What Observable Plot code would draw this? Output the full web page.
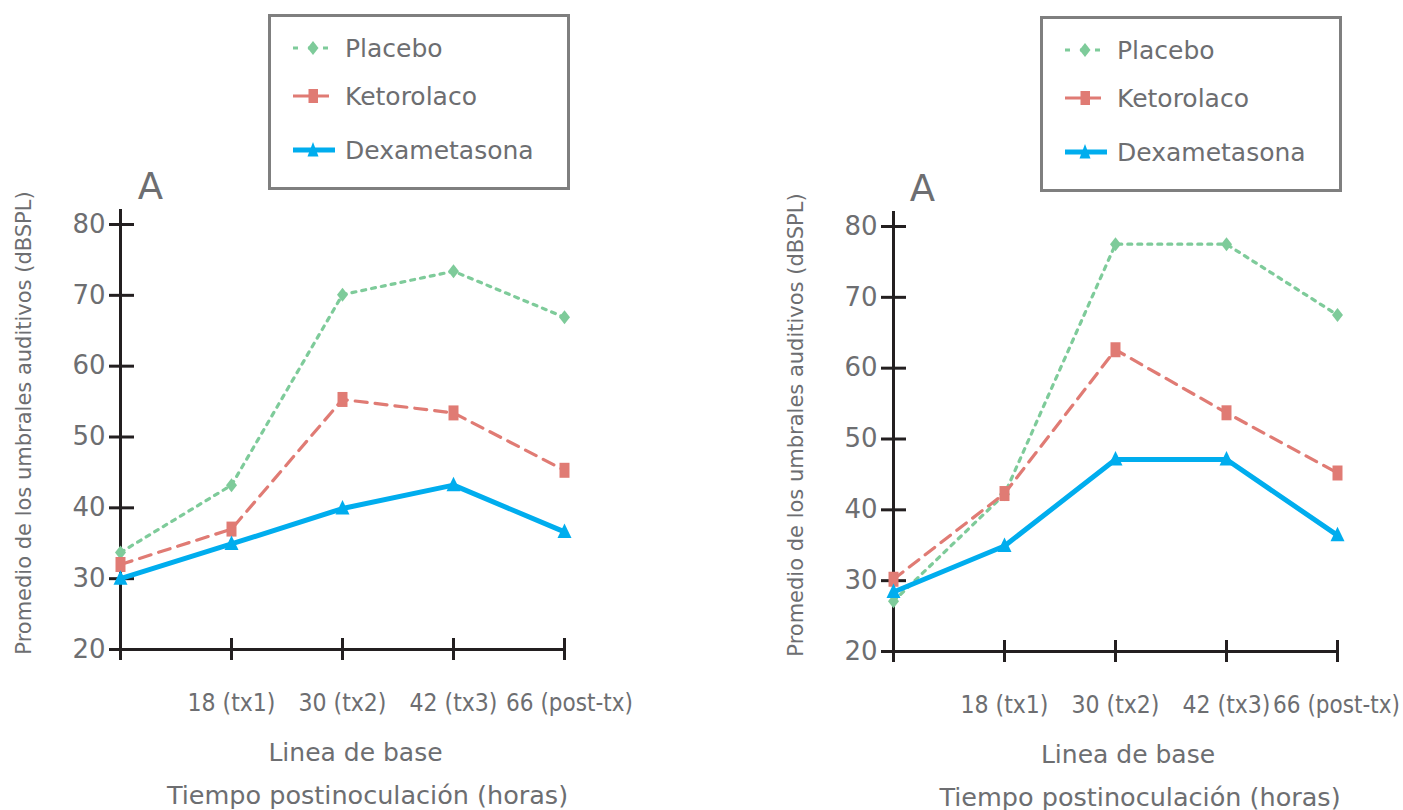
<!DOCTYPE html>
<html><head><meta charset="utf-8">
<script src="https://cdn.jsdelivr.net/npm/d3@7"></script>
<script src="https://cdn.jsdelivr.net/npm/@observablehq/plot@0.6"></script>
<style>
body{margin:0;background:#fff;width:1403px;height:810px;overflow:hidden;font-family:"DejaVu Sans",Verdana,sans-serif;}
.panel{position:absolute;top:0;height:810px;}
.panel svg{overflow:visible}
.legend{position:absolute;top:14px;left:268px;width:302px;height:176px;box-sizing:border-box;border:3px solid #7f7f7f;background:#fff;}
.legend svg{position:absolute;left:-3px;top:-3px;}
</style></head><body>
<div id="p1" class="panel" style="left:0;width:771px"></div>
<div id="p2" class="panel" style="left:772px;width:631px;top:2px"></div>
<script>
// ---- data ----
const timepoints = ["0", "18", "30", "42", "66"];
const tickLabels = ["", "18 (tx1)", "30 (tx2)", "42 (tx3)", "66 (post-tx)"];
const seriesNames = ["Placebo", "Ketorolaco", "Dexametasona"];
const yTicks = [20, 30, 40, 50, 60, 70, 80];
const panelLabel = "A";
const yTitle = "Promedio de los umbrales auditivos (dBSPL)";
const xTitle1 = "Linea de base";
const xTitle2 = "Tiempo postinoculación (horas)";

const left_placebo      = [33.7, 43.2, 70.1, 73.4, 66.9];
const left_ketorolaco   = [32.0, 37.0, 55.3, 53.4, 45.3];
const left_dexametasona = [30.0, 34.9, 39.9, 43.2, 36.6];

const right_placebo      = [27.1, 42.2, 77.5, 77.5, 67.5];
const right_ketorolaco   = [30.2, 42.3, 62.6, 53.7, 45.2];
const right_dexametasona = [28.4, 34.9, 47.1, 47.1, 36.4];

// ---- styles ----
const colors = {Placebo: "#7ecb9a", Ketorolaco: "#e07b74", Dexametasona: "#00adee"};
const dashes = {Placebo: "4,6", Ketorolaco: "12,8", Dexametasona: null};
const widths = {Placebo: 3.2, Ketorolaco: 3.2, Dexametasona: 5};
const symbols = {
  Placebo: {draw(c){ c.moveTo(0,-7); c.lineTo(5.5,0); c.lineTo(0,7); c.lineTo(-5.5,0); c.closePath(); }},
  Ketorolaco: {draw(c){ c.rect(-5,-7.5,10,15); }},
  Dexametasona: {draw(c){ c.moveTo(0,-8.5); c.lineTo(7,6); c.lineTo(-7,6); c.closePath(); }}
};
const axisColor = "#231f20";
const textColor = "#6d6e71";

function legendSVG() {
  const rows = [34, 82, 136];
  let s = `<svg width="302" height="176" xmlns="http://www.w3.org/2000/svg" font-family="DejaVu Sans" font-size="25" fill="${textColor}">`;
  s += `<line x1="25" x2="60" y1="${rows[0]}" y2="${rows[0]}" stroke="${colors.Placebo}" stroke-width="3" stroke-dasharray="5,10"/>`;
  s += `<path d="M45,${rows[0]-7} L50.5,${rows[0]} L45,${rows[0]+7} L39.5,${rows[0]} Z" fill="${colors.Placebo}"/>`;
  s += `<line x1="25" x2="61" y1="${rows[1]}" y2="${rows[1]}" stroke="${colors.Ketorolaco}" stroke-width="3"/>`;
  s += `<rect x="40.5" y="${rows[1]-7}" width="9.5" height="14" fill="${colors.Ketorolaco}"/>`;
  s += `<line x1="25" x2="67" y1="${rows[2]}" y2="${rows[2]}" stroke="${colors.Dexametasona}" stroke-width="5"/>`;
  s += `<path d="M45,${rows[2]-8} L50.5,${rows[2]+6.5} L39.5,${rows[2]+6.5} Z" fill="${colors.Dexametasona}"/>`;
  seriesNames.forEach((n, i) => {
    s += `<text x="77" y="${rows[i]}" dy="0.36em">${n}</text>`;
  });
  s += `</svg>`;
  return s;
}

function drawPanel(el, vals, width, marginRight, lastDx) {
  const rows = [];
  seriesNames.forEach((s, i) => vals[i].forEach((v, j) => rows.push({serie: s, t: timepoints[j], v})));
  const marks = [
    Plot.ruleX([timepoints[0]], {stroke: axisColor, strokeWidth: 3}),
    Plot.ruleY([20], {stroke: axisColor, strokeWidth: 3}),
    Plot.axisY({ticks: yTicks, tickSize: 25, dx: 22, tickPadding: 4, stroke: axisColor, strokeWidth: 3,
      fill: textColor, fontSize: 26, fontFamily: "DejaVu Sans", label: null}),
    Plot.axisX({tickSize: 22, dy: -20, stroke: axisColor, strokeWidth: 3, tickFormat: () => "", label: null}),
    Plot.text(timepoints.slice(1, 4), {x: d => d, frameAnchor: "bottom", text: d => tickLabels[timepoints.indexOf(d)],
      dy: 45, fill: textColor, fontSize: 24.5, fontFamily: "DejaVu Sans Condensed", textAnchor: "middle", lineAnchor: "middle"}),
    Plot.text(timepoints.slice(4), {x: d => d, frameAnchor: "bottom", text: d => tickLabels[timepoints.indexOf(d)],
      dy: 45, dx: lastDx, fill: textColor, fontSize: 24, fontFamily: "DejaVu Sans Condensed", textAnchor: "middle", lineAnchor: "middle"}),
    Plot.text([xTitle1], {frameAnchor: "bottom", dx: 16, dy: 94, fill: textColor, fontSize: 25, fontFamily: "DejaVu Sans", textAnchor: "middle", lineAnchor: "middle"}),
    Plot.text([xTitle2], {frameAnchor: "bottom", dx: 28, dy: 137, fill: textColor, fontSize: 25.5, fontFamily: "DejaVu Sans", textAnchor: "middle", lineAnchor: "middle"}),
    Plot.text([yTitle], {frameAnchor: "left", rotate: -90, dx: -88, dy: -11, fill: textColor, fontSize: 21, fontFamily: "DejaVu Sans", textAnchor: "middle", lineAnchor: "middle"}),
    Plot.text([panelLabel], {frameAnchor: "top-left", dx: 38, dy: -22, fill: textColor, fontSize: 37, fontFamily: "DejaVu Sans", textAnchor: "middle", lineAnchor: "middle"})
  ];
  seriesNames.forEach(s => {
    const d = rows.filter(r => r.serie === s);
    marks.push(Plot.line(d, {x: "t", y: "v", stroke: colors[s], strokeWidth: widths[s], strokeDasharray: dashes[s]}));
  });
  seriesNames.forEach(s => {
    const d = rows.filter(r => r.serie === s);
    marks.push(Plot.dot(d, {x: "t", y: "v", symbol: symbols[s], fill: colors[s], stroke: "none", r: 6}));
  });
  const chart = Plot.plot({
    width, height: 810,
    marginTop: 209, marginBottom: 152, marginLeft: 112, marginRight,
    style: {fontFamily: "DejaVu Sans", color: textColor, background: "transparent", overflow: "visible"},
    x: {type: "point", domain: timepoints, padding: 0, insetLeft: 8, insetRight: 2, axis: null},
    y: {domain: [20, 80], insetTop: 15, insetBottom: 9, axis: null},
    marks
  });
  el.appendChild(chart);
  const lg = document.createElement("div");
  lg.className = "legend";
  lg.innerHTML = legendSVG();
  el.appendChild(lg);
}

drawPanel(document.getElementById("p1"), [left_placebo, left_ketorolaco, left_dexametasona], 771, 205, 5);
drawPanel(document.getElementById("p2"), [right_placebo, right_ketorolaco, right_dexametasona], 631, 64, -1);
</script>
</body></html>
